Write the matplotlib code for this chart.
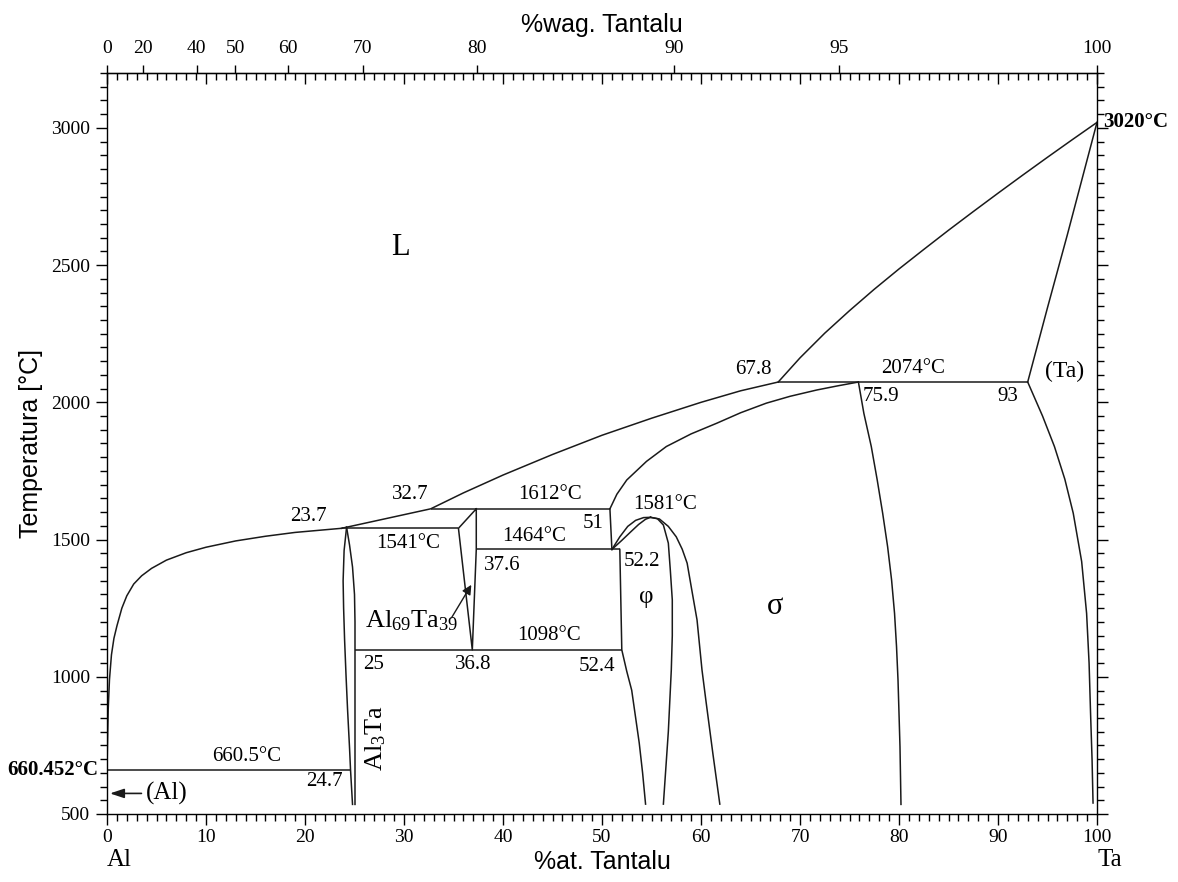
import matplotlib
matplotlib.use('Agg')
import matplotlib.pyplot as plt
import numpy as np
from matplotlib.ticker import MultipleLocator

# fonts: Times-like serif for numbers, Arial-like sans for axis titles
plt.rcParams['font.family'] = 'Liberation Serif'
plt.rcParams['mathtext.fontset'] = 'custom'
plt.rcParams['mathtext.rm'] = 'Liberation Serif'
plt.rcParams['mathtext.it'] = 'Liberation Serif:italic'

# phase boundaries, x = at.% Ta, t = temperature in C
liq_al_x = [0, 0.05, 0.12, 0.25, 0.45, 0.7, 1.0, 1.5, 2.0, 2.7, 3.5, 4.5, 6, 8, 10, 13, 16, 19, 21.5, 23.7]
liq_al_t = [660.5, 760, 880, 990, 1080, 1140, 1185, 1250, 1295, 1338, 1368, 1395, 1425, 1452, 1472, 1495, 1512, 1526, 1534, 1541]

liq_mid_x = [23.7, 32.7, 36, 40, 45, 50, 55, 60, 64, 67.8]
liq_mid_t = [1541, 1612, 1670, 1735, 1810, 1880, 1942, 2000, 2042, 2074]

liq_ta_x = [67.8, 70, 72.5, 75, 77.5, 80, 82.5, 85, 87.5, 90, 92.5, 95, 97.5, 100]
liq_ta_t = [2074, 2162, 2252, 2334, 2412, 2486, 2557, 2627, 2695, 2762, 2828, 2893, 2957, 3020]

sol_ta_x = [93, 95, 97, 98.5, 100]
sol_ta_t = [2074, 2345, 2610, 2815, 3020]

ta_low_x = [93, 94.5, 95.7, 96.75, 97.6, 98.45, 98.95, 99.2, 99.35, 99.5, 99.6]
ta_low_t = [2074, 1950, 1839, 1720, 1596, 1420, 1231, 1050, 867, 700, 540]

sig_liq_x = [50.8, 51.5, 52.5, 54.5, 56.5, 59, 61.6, 64, 66.6, 69, 71.7, 73.8, 75.9]
sig_liq_t = [1612, 1665, 1717, 1785, 1839, 1885, 1924, 1962, 1997, 2022, 2045, 2060, 2074]

sig_right_x = [75.9, 76.45, 77.2, 77.8, 78.35, 78.85, 79.25, 79.55, 79.75, 79.9, 80.0, 80.1, 80.2]
sig_right_t = [2074, 1960, 1839, 1717, 1596, 1474, 1353, 1231, 1110, 988, 867, 745, 535]

sig_left_x = [54.9, 55.8, 56.7, 57.5, 58.1, 58.6, 59.1, 59.6, 60.1, 60.5, 61.2, 61.9]
sig_left_t = [1581, 1575, 1548, 1510, 1465, 1414, 1310, 1207, 1025, 912, 720, 536]

phi_right_x = [54.9, 55.6, 56.2, 56.7, 56.9, 57.1, 57.1, 57.0, 56.7, 56.2]
phi_right_t = [1581, 1576, 1553, 1487, 1389, 1280, 1150, 1025, 800, 536]

phi_upper_x = [51.0, 51.8, 52.6, 53.4, 54.2, 54.9]
phi_upper_t = [1464, 1510, 1548, 1570, 1580, 1581]
phi_inner_x = [51.0, 52.0, 52.9, 53.7, 54.4, 54.9]
phi_inner_t = [1464, 1497, 1528, 1555, 1574, 1581]

phi_left_x = [51.8, 52.0, 52.5, 53.0, 53.4, 53.76, 54.1, 54.4]
phi_left_t = [1464, 1098, 1020, 951, 850, 759, 650, 536]

al3ta_left_x = [24.2, 23.95, 23.85, 23.9, 24.0, 24.15, 24.3, 24.5, 24.6, 24.8]
al3ta_left_t = [1545, 1460, 1350, 1250, 1134, 1000, 880, 740, 660, 535]
al3ta_right_x = [24.2, 24.5, 24.8, 25.0, 25.05, 25.05, 25.05]
al3ta_right_t = [1545, 1480, 1400, 1300, 1200, 1098, 535]

al69_x = [37.3, 35.5, 36.9, 37.3, 37.3]
al69_t = [1612, 1541, 1098, 1464, 1612]

# invariant lines: (x start, x end, temperature)
iso_x0 = [0, 23.7, 32.7, 37.3, 25.05, 67.8]
iso_x1 = [24.6, 35.5, 50.8, 51.8, 52.0, 93]
iso_t = [660.5, 1541, 1612, 1464, 1098, 2074]

step_x = [50.8, 51.0]
step_t = [1612, 1464]

wt_ticks = [0, 20, 40, 50, 60, 70, 80, 90, 95, 100]

M_TA = 180.948
M_AL = 26.982


def at2wt(x):
    x = np.asarray(x, dtype=float)
    with np.errstate(divide='ignore', invalid='ignore'):
        return 100 * x * M_TA / (x * M_TA + (100 - x) * M_AL)


def wt2at(w):
    w = np.asarray(w, dtype=float)
    with np.errstate(divide='ignore', invalid='ignore'):
        return 100 * (w / M_TA) / (w / M_TA + (100 - w) / M_AL)


fig = plt.figure(figsize=(11.78, 8.82), dpi=100)
ax = fig.add_axes([107 / 1178, 1 - 814 / 882, 990 / 1178, 741 / 882])
ax.set_xlim(0, 100)
ax.set_ylim(500, 3200)

lc = '#1a1a1a'
lw = 1.1
curves = [(liq_al_x, liq_al_t), (liq_mid_x, liq_mid_t), (liq_ta_x, liq_ta_t),
          (sol_ta_x, sol_ta_t), (ta_low_x, ta_low_t), (sig_liq_x, sig_liq_t),
          (sig_right_x, sig_right_t), (sig_left_x, sig_left_t),
          (phi_right_x, phi_right_t), (phi_upper_x, phi_upper_t),
          (phi_inner_x, phi_inner_t), (phi_left_x, phi_left_t),
          (al3ta_left_x, al3ta_left_t), (al3ta_right_x, al3ta_right_t),
          (al69_x, al69_t), (step_x, step_t)]
for cx, ct in curves:
    ax.plot(cx, ct, color=lc, lw=lw, solid_joinstyle='round')
ax.hlines(iso_t, iso_x0, iso_x1, color=lc, lw=lw)

for s in ax.spines.values():
    s.set_linewidth(1.0)

# bottom / left / right ticks
ax.xaxis.set_major_locator(MultipleLocator(10))
ax.xaxis.set_minor_locator(MultipleLocator(1))
ax.yaxis.set_minor_locator(MultipleLocator(50))
ax.set_yticks([500, 1000, 1500, 2000, 2500, 3000])
ax.tick_params(which='both', direction='out', right=True, top=False, labelsize=14, width=1.0)
ax.tick_params(which='major', length=8)
ax.tick_params(which='minor', length=5)
ax.tick_params(axis='x', pad=3)
ax.tick_params(axis='y', pad=4)

# at.% ticks on the top edge, pointing inward
top_at = ax.secondary_xaxis('top')
top_at.xaxis.set_major_locator(MultipleLocator(10))
top_at.xaxis.set_minor_locator(MultipleLocator(1))
top_at.tick_params(which='both', direction='in', labeltop=False, width=1.0)
top_at.tick_params(which='major', length=8)
top_at.tick_params(which='minor', length=5)

# wt.% ticks on the top edge, pointing outward
top_wt = ax.secondary_xaxis('top', functions=(at2wt, wt2at))
top_wt.set_xticks(wt_ticks)
top_wt.set_xticklabels([str(v) for v in wt_ticks])
top_wt.tick_params(direction='out', length=6, width=1.0, labelsize=14, pad=5.5)
top_wt.set_xlabel('%wag. Tantalu', fontfamily='Liberation Sans', fontsize=18, labelpad=6)

ax.set_xlabel('%at. Tantalu', fontfamily='Liberation Sans', fontsize=18, labelpad=3)
ax.set_ylabel('Temperatura [°C]', fontfamily='Liberation Sans', fontsize=18, labelpad=6)

xt = ax.get_xaxis_transform()
ax.text(0, -0.062, 'Al', transform=xt, ha='left', va='center', fontsize=18)
ax.text(100, -0.062, 'Ta', transform=xt, ha='left', va='center', fontsize=18)

ax.text(-0.9, 660.452, '660.452°C', ha='right', va='center', fontsize=15,
        fontweight='bold', clip_on=False)
ax.text(100.6, 3020, '3020°C', ha='left', va='center', fontsize=15,
        fontweight='bold', clip_on=False)

# region labels
ax.text(29.6, 2563, 'L', ha='center', va='center', fontsize=22)
ax.text(67.5, 1255, 'σ', ha='center', va='center', fontsize=22)
ax.text(54.5, 1292, 'φ', ha='center', va='center', fontsize=18)
ax.text(96.7, 2112, '(Ta)', ha='center', va='center', fontsize=17)
ax.text(27.1, 778, r'Al$_{\mathrm{3}}$Ta', ha='center', va='center', fontsize=19, rotation=90)
ax.text(30.8, 1205, r'Al$_{\mathrm{69}}$Ta$_{\mathrm{39}}$', ha='center', va='center', fontsize=19)
ax.annotate('', xy=(36.8, 1335), xytext=(34.8, 1215),
            arrowprops=dict(arrowstyle='-|>', color=lc, lw=1.0, mutation_scale=14,
                            shrinkA=0, shrinkB=0))
ax.annotate('(Al)', xy=(0.3, 575), xytext=(3.9, 575), ha='left', va='center', fontsize=18,
            arrowprops=dict(arrowstyle='-|>,head_length=0.6,head_width=0.2', color=lc,
                            lw=1.2, mutation_scale=14, shrinkA=1, shrinkB=0))

# invariant temperatures and compositions
fs = 15
ax.text(67.1, 2118, '67.8', ha='right', va='center', fontsize=fs)
ax.text(81.4, 2124, '2074°C', ha='center', va='center', fontsize=fs)
ax.text(78.2, 2021, '75.9', ha='center', va='center', fontsize=fs)
ax.text(91.0, 2021, '93', ha='center', va='center', fontsize=fs)
ax.text(30.6, 1663, '32.7', ha='center', va='center', fontsize=fs)
ax.text(44.7, 1663, '1612°C', ha='center', va='center', fontsize=fs)
ax.text(20.3, 1583, '23.7', ha='center', va='center', fontsize=fs)
ax.text(30.4, 1486, '1541°C', ha='center', va='center', fontsize=fs)
ax.text(49.1, 1559, '51', ha='center', va='center', fontsize=fs)
ax.text(43.1, 1510, '1464°C', ha='center', va='center', fontsize=fs)
ax.text(56.4, 1626, '1581°C', ha='center', va='center', fontsize=fs)
ax.text(39.9, 1407, '37.6', ha='center', va='center', fontsize=fs)
ax.text(54.0, 1419, '52.2', ha='center', va='center', fontsize=fs)
ax.text(44.6, 1152, '1098°C', ha='center', va='center', fontsize=fs)
ax.text(26.9, 1043, '25', ha='center', va='center', fontsize=fs)
ax.text(37.0, 1043, '36.8', ha='center', va='center', fontsize=fs)
ax.text(49.5, 1036, '52.4', ha='center', va='center', fontsize=fs)
ax.text(14.1, 709, '660.5°C', ha='center', va='center', fontsize=fs)
ax.text(22.0, 618, '24.7', ha='center', va='center', fontsize=fs)

fig.savefig('out.png', dpi=100)
